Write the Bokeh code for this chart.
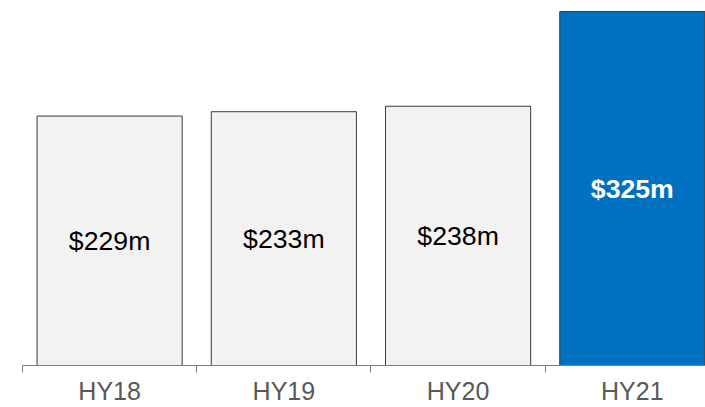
from bokeh.plotting import figure
from bokeh.models import ColumnDataSource, FixedTicker, Range1d
from bokeh.core.properties import value
from bokeh.embed import file_html
from bokeh.resources import INLINE

categories = ["HY18", "HY19", "HY20", "HY21"]
values = [229, 233, 238, 325]
labels = ["$229m", "$233m", "$238m", "$325m"]
fills = ["#F2F2F2", "#F2F2F2", "#F2F2F2", "#0070C0"]
label_colors = ["#000000", "#000000", "#000000", "#FFFFFF"]
label_styles = ["normal", "normal", "normal", "bold"]

xs = [i + 0.5 for i in range(len(categories))]
src = ColumnDataSource(dict(x=xs, top=values, mid=[v / 2 for v in values],
                            label=labels, fill=fills, lc=label_colors, ls=label_styles))

p = figure(width=705, height=407, output_backend="svg", toolbar_location=None,
           x_range=Range1d(0, 3.92), y_range=Range1d(0, 335.1),
           min_border_left=22, min_border_right=0, min_border_top=0, min_border_bottom=41)
p.outline_line_color = None
p.grid.visible = False
p.yaxis.visible = False

p.vbar(x="x", top="top", bottom=0, width=0.833, source=src, fill_color="fill",
       line_color="#3a3a3a", line_width=1)
p.text(x="x", y="mid", text="label", source=src, text_color="lc", text_font_style="ls",
       text_align="center", text_baseline="middle", text_font=value("Liberation Sans"),
       text_font_size="20pt")

ax = p.xaxis[0]
ax.ticker = FixedTicker(ticks=xs, minor_ticks=[0, 1, 2, 3])
ax.major_label_overrides = {x: c for x, c in zip(xs, categories)}
ax.major_tick_out = 0
ax.major_tick_in = 0
ax.minor_tick_out = 7
ax.minor_tick_in = 0
ax.minor_tick_line_color = "#7f7f7f"
ax.axis_line_color = "#7f7f7f"
ax.major_label_standoff = 4
ax.major_label_text_font = "Liberation Sans"
ax.major_label_text_font_size = "25px"
ax.major_label_text_color = "#595959"

open("out.html", "w").write(file_html(p, INLINE))
